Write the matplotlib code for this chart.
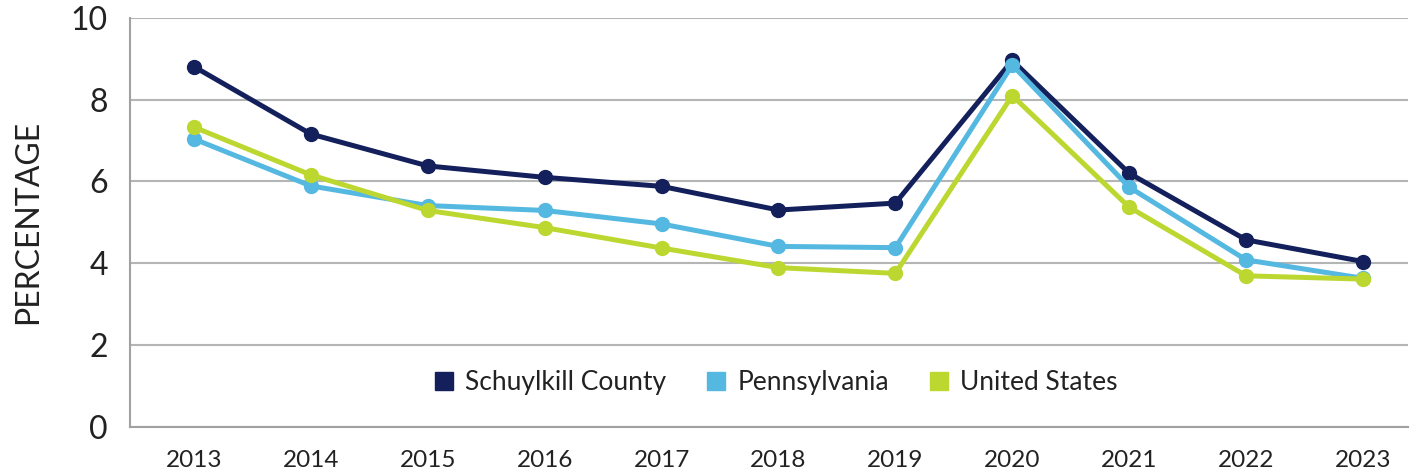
import matplotlib
matplotlib.use("Agg")
import matplotlib.pyplot as plt
from matplotlib.lines import Line2D

plt.rcParams['font.family'] = ['Lato', 'DejaVu Sans']

years = ["2013", "2014", "2015", "2016", "2017", "2018", "2019", "2020", "2021", "2022", "2023"]
schuylkill = [8.81, 7.16, 6.38, 6.10, 5.88, 5.30, 5.47, 8.96, 6.20, 4.57, 4.04]
pennsylvania = [7.04, 5.89, 5.41, 5.29, 4.96, 4.41, 4.38, 8.85, 5.86, 4.08, 3.63]
united_states = [7.33, 6.16, 5.29, 4.87, 4.37, 3.89, 3.75, 8.10, 5.37, 3.69, 3.61]
series_names = ["Schuylkill County", "Pennsylvania", "United States"]
colors = ["#13205B", "#54B8E1", "#BDD731"]
yticks = [0, 2, 4, 6, 8, 10]

fig = plt.figure(figsize=(14.16, 4.72), dpi=100)
ax = fig.add_axes([130/1416, 1 - 426.6/472, (1408-130)/1416, (426.6-18)/472])

x = list(range(len(years)))
for vals, c in zip([schuylkill, pennsylvania, united_states], colors):
    ax.plot(x, vals, color=c, lw=3.6, marker='o', ms=10, zorder=3)

ax.set_ylim(0, 10)
ax.set_xlim(-0.547, 10.385)
ax.set_yticks(yticks)
ax.set_yticklabels([str(v) for v in yticks], fontsize=23, color='#222222')
ax.set_xticks(x)
ax.set_xticklabels(years, fontsize=17.5, color='#222222')
ax.tick_params(axis='both', length=0)
ax.tick_params(axis='y', pad=16)
ax.tick_params(axis='x', pad=17)
ax.grid(axis='y', color='#B4B6B6', lw=1.5)
ax.set_axisbelow(True)
for s in ['top', 'right']:
    ax.spines[s].set_visible(False)
ax.spines['bottom'].set_color('#A0A2A2')
ax.spines['bottom'].set_linewidth(1.5)
ax.spines['left'].set_color('#A0A2A2')
ax.spines['left'].set_linewidth(1.5)

ax.set_ylabel("PERCENTAGE", fontsize=23, color='#222222', labelpad=20)

handles = [Line2D([], [], ls='none', marker='s', ms=13, color=c) for c in colors]
leg = ax.legend(handles, series_names, loc='center', bbox_to_anchor=(0.504, 0.107),
                ncol=3, frameon=False, fontsize=19, handletextpad=0.3,
                columnspacing=1.4, handlelength=1.0)
for t in leg.get_texts():
    t.set_color('#222222')

fig.savefig("out.png", dpi=100)
